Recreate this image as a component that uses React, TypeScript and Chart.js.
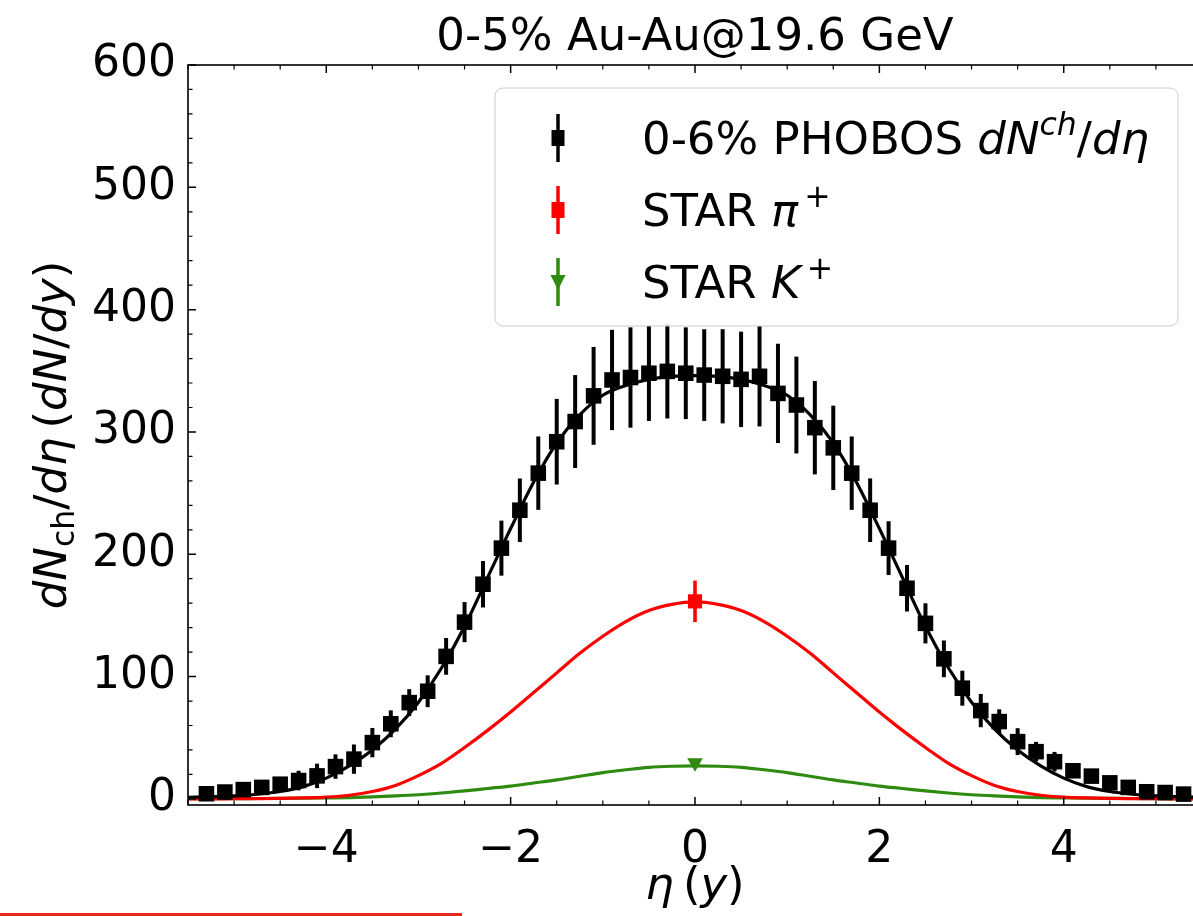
import { useEffect, useRef } from 'react';
import { Chart, registerables } from 'chart.js';

Chart.register(...registerables);

// ---------------- data ----------------
const etaPhobos = [-5.3, -5.1, -4.9, -4.7, -4.5, -4.3, -4.1, -3.9, -3.7, -3.5, -3.3, -3.1, -2.9, -2.7, -2.5, -2.3, -2.1, -1.9, -1.7, -1.5, -1.3, -1.1, -0.9, -0.7, -0.5, -0.3, -0.1, 0.1, 0.3, 0.5, 0.7, 0.9, 1.1, 1.3, 1.5, 1.7, 1.9, 2.1, 2.3, 2.5, 2.7, 2.9, 3.1, 3.3, 3.5, 3.7, 3.9, 4.1, 4.3, 4.5, 4.7, 4.9, 5.1, 5.3];
const dNdEtaPhobos = [4.2, 5.6, 7.6, 9.4, 12, 15, 18.8, 26.4, 32.5, 46, 61.4, 78.7, 88, 116.5, 144.5, 175.5, 205, 236, 266.3, 292, 308.5, 329.5, 342.5, 344.5, 348, 349.5, 348, 346.5, 345.5, 343, 345.5, 331.5, 322, 303.5, 287, 266.3, 236, 205, 172.2, 143.5, 114.5, 90.5, 72.2, 63.2, 46.8, 38.6, 30.4, 23, 18.6, 13.1, 9.4, 5.8, 5.2, 3.9];
const errPhobos = [1.5, 2, 2.5, 3, 5, 8, 10, 10, 12, 12, 11, 11, 13, 15, 16.4, 19, 22.5, 26, 30, 35, 38, 40, 41, 41, 39, 38.5, 37.5, 37.5, 38.5, 39, 41, 40.6, 39.6, 38.2, 34.5, 30, 26, 22, 19, 16.4, 15, 14.3, 13.6, 10, 11, 8, 8, 6, 5, 4, 3, 2, 1.5, 1.5];

const etaPion = [0];
const dNdyPion = [161.5];
const errPion = [17];

const etaKaon = [0];
const dNdyKaon = [29.5];
const errKaon = [2];

const etaCurve = [-5.5, -5.25, -5, -4.75, -4.5, -4.25, -4, -3.75, -3.5, -3.25, -3, -2.75, -2.5, -2.25, -2, -1.75, -1.5, -1.25, -1, -0.75, -0.5, -0.25, 0, 0.25, 0.5, 0.75, 1, 1.25, 1.5, 1.75, 2, 2.25, 2.5, 2.75, 3, 3.25, 3.5, 3.75, 4, 4.25, 4.5, 4.75, 5, 5.25, 5.5];
const chargedModel = [1.3, 1.8, 2.5, 3.8, 6, 10, 17, 27, 40, 57, 79, 107, 141, 181, 221, 259, 291, 314, 330, 338, 343, 345.5, 346, 345.5, 343, 338, 330, 314, 291, 259, 221, 181, 141, 107, 79, 57, 40, 27, 17, 10, 6, 3.8, 2.5, 1.8, 1.3];
const pionModel = [0, 0.05, 0.1, 0.2, 0.4, 0.8, 1.5, 3, 6, 11, 19, 29, 42, 56, 71, 87, 103, 119, 133, 145, 154, 159, 161, 159, 154, 145, 133, 119, 103, 87, 71, 56, 42, 29, 19, 11, 6, 3, 1.5, 0.8, 0.4, 0.2, 0.1, 0.05, 0];
const kaonModel = [0.1, 0.15, 0.2, 0.3, 0.4, 0.55, 0.8, 1.1, 1.6, 2.4, 3.4, 4.8, 6.5, 8.5, 10.5, 13, 15.5, 18.5, 21.5, 23.8, 25.8, 26.7, 27, 26.7, 25.8, 23.8, 21.5, 18.5, 15.5, 13, 10.5, 8.5, 6.5, 4.8, 3.4, 2.4, 1.6, 1.1, 0.8, 0.55, 0.4, 0.3, 0.2, 0.15, 0.1];

const xTickValues = [-4, -2, 0, 2, 4];
const yTickValues = [0, 100, 200, 300, 400, 500, 600];
const xRange = [-5.5, 5.5];
const yRange = [-5, 600];

const titleText = '0-5% Au-Au@19.6 GeV';

const BLACK = '#000000';
const RED = '#ff0000';
const GREEN = '#2e8b0f';
const FONT = '"DejaVu Sans"';

type Seg = { t: string; it?: boolean; sup?: boolean; sub?: boolean };

const legendRows: { segs: Seg[]; color: string; marker: 'rect' | 'tri' }[] = [
  { segs: [{ t: '0-6% PHOBOS ' }, { t: 'dN', it: true }, { t: 'ch', it: true, sup: true }, { t: '/' }, { t: 'dη', it: true }], color: BLACK, marker: 'rect' },
  { segs: [{ t: 'STAR ' }, { t: 'π', it: true }, { t: '\u2009+', sup: true }], color: RED, marker: 'rect' },
  { segs: [{ t: 'STAR ' }, { t: 'K', it: true }, { t: '\u2009+', sup: true }], color: GREEN, marker: 'tri' },
];

const xLabelSegs: Seg[] = [{ t: 'η', it: true }, { t: '\u2009(' }, { t: 'y', it: true }, { t: ')' }];
const yLabelSegs: Seg[] = [
  { t: 'dN', it: true }, { t: 'ch', sub: true }, { t: '/' }, { t: 'dη', it: true },
  { t: '\u2009(' }, { t: 'dN', it: true }, { t: '/' }, { t: 'dy', it: true }, { t: ')' },
];

// ---------------- helpers ----------------
function fontFor(s: Seg, size: number) {
  const sz = s.sup || s.sub ? size * 0.7 : size;
  return `${s.it ? 'italic ' : ''}${sz}px ${FONT}`;
}
function measureRich(ctx: CanvasRenderingContext2D, segs: Seg[], size: number) {
  let w = 0;
  for (const s of segs) {
    ctx.font = fontFor(s, size);
    w += ctx.measureText(s.t).width;
  }
  return w;
}
function drawRich(ctx: CanvasRenderingContext2D, segs: Seg[], x: number, y: number, size: number, align: 'left' | 'center') {
  let cx = align === 'center' ? x - measureRich(ctx, segs, size) / 2 : x;
  ctx.textAlign = 'left';
  ctx.textBaseline = 'alphabetic';
  for (const s of segs) {
    ctx.font = fontFor(s, size);
    const dy = s.sup ? -0.42 * size : s.sub ? 0.18 * size : 0;
    ctx.fillText(s.t, cx, y + dy);
    cx += ctx.measureText(s.t).width;
  }
}

const errorBarPlugin = {
  id: 'errorBars',
  beforeDatasetDraw(chart: any, args: any) {
    const ds = chart.data.datasets[args.index];
    if (!ds.errors) return;
    const { ctx, scales } = chart;
    const x = scales.x, y = scales.y;
    ctx.save();
    ctx.strokeStyle = ds.errorColor;
    ctx.lineWidth = ds.errorWidth;
    ds.data.forEach((p: any, i: number) => {
      const e = ds.errors[i];
      const px = x.getPixelForValue(p.x);
      ctx.beginPath();
      ctx.moveTo(px, y.getPixelForValue(p.y - e));
      ctx.lineTo(px, y.getPixelForValue(p.y + e));
      ctx.stroke();
    });
    ctx.restore();
  },
};

const decorPlugin = {
  id: 'decor',
  afterDatasetsDraw(chart: any) {
    const { ctx, chartArea: a, scales } = chart;
    const x = scales.x, y = scales.y;
    ctx.save();
    ctx.strokeStyle = '#000';
    const majLen = 8, minLen = 4.5;
    const xtick = (v: number, len: number, w: number) => {
      const px = x.getPixelForValue(v);
      ctx.lineWidth = w;
      ctx.beginPath();
      ctx.moveTo(px, a.bottom); ctx.lineTo(px, a.bottom - len);
      ctx.moveTo(px, a.top); ctx.lineTo(px, a.top + len);
      ctx.stroke();
    };
    const ytick = (v: number, len: number, w: number) => {
      const py = y.getPixelForValue(v);
      ctx.lineWidth = w;
      ctx.beginPath();
      ctx.moveTo(a.left, py); ctx.lineTo(a.left + len, py);
      ctx.moveTo(a.right, py); ctx.lineTo(a.right - len, py);
      ctx.stroke();
    };
    for (let v = -5.5; v <= 5.5001; v += 0.5) {
      if (xTickValues.some((t) => Math.abs(t - v) < 1e-6)) continue;
      xtick(v, minLen, 1.2);
    }
    xTickValues.forEach((v) => xtick(v, majLen, 1.5));
    for (let v = 20; v < 600; v += 20) {
      if (v % 100 === 0) continue;
      ytick(v, minLen, 1.2);
    }
    yTickValues.forEach((v) => ytick(v, majLen, 1.5));
    ctx.lineWidth = 1.6;
    ctx.strokeRect(a.left, a.top, a.right - a.left, a.bottom - a.top);
    ctx.restore();
  },
  afterDraw(chart: any) {
    const { ctx, chartArea: a } = chart;
    ctx.save();
    ctx.fillStyle = '#000';
    const cx = (a.left + a.right) / 2;
    // title
    ctx.font = `45px ${FONT}`;
    ctx.textAlign = 'center';
    ctx.textBaseline = 'alphabetic';
    ctx.fillText(titleText, cx, 50);
    // x label
    drawRich(ctx, xLabelSegs, cx, 899, 45, 'center');
    // y label
    ctx.save();
    ctx.translate(66, (a.top + a.bottom) / 2);
    ctx.rotate(-Math.PI / 2);
    drawRich(ctx, yLabelSegs, 0, 0, 45, 'center');
    ctx.restore();

    // legend
    const lx = 495, ly = a.top + 23, lw = a.right - 24 - 495, lh = 238;
    ctx.beginPath();
    ctx.roundRect(lx, ly, lw, lh, 8);
    ctx.fillStyle = 'rgba(255,255,255,0.8)';
    ctx.fill();
    ctx.strokeStyle = '#cccccc';
    ctx.lineWidth = 1;
    ctx.stroke();
    const rowY = [ly + 50, ly + 122, ly + 194];
    legendRows.forEach((row, i) => {
      const yc = rowY[i];
      const hx = 558;
      ctx.strokeStyle = row.color;
      ctx.fillStyle = row.color;
      ctx.lineWidth = 3.5;
      ctx.beginPath();
      ctx.moveTo(hx, yc - 24);
      ctx.lineTo(hx, yc + 24);
      ctx.stroke();
      if (row.marker === 'rect') {
        ctx.fillRect(hx - 6.5, yc - 8, 13, 16);
      } else {
        ctx.beginPath();
        ctx.moveTo(hx - 7.5, yc - 7);
        ctx.lineTo(hx + 7.5, yc - 7);
        ctx.lineTo(hx, yc + 8);
        ctx.closePath();
        ctx.fill();
      }
      ctx.fillStyle = '#000';
      drawRich(ctx, row.segs, 642, yc + 16, 45, 'left');
    });
    ctx.restore();
  },
};

function pts(xs: number[], ys: number[]) {
  return xs.map((v, i) => ({ x: v, y: ys[i] }));
}

export default function App() {
  const ref = useRef<HTMLCanvasElement>(null);
  useEffect(() => {
    const canvas = ref.current;
    if (!canvas) return;
    const chart = new Chart(canvas, {
      type: 'line',
      data: {
        datasets: [
          {
            label: '0-6% PHOBOS',
            data: pts(etaPhobos, dNdEtaPhobos),
            showLine: false,
            pointStyle: 'rect',
            pointRadius: 11,
            pointBackgroundColor: BLACK,
            pointBorderWidth: 0,
            borderColor: BLACK,
            backgroundColor: BLACK,
            errors: errPhobos,
            errorColor: BLACK,
            errorWidth: 4,
          } as any,
          {
            label: 'STAR pi+',
            data: pts(etaPion, dNdyPion),
            showLine: false,
            pointStyle: 'rect',
            pointRadius: 10,
            pointBackgroundColor: RED,
            pointBorderWidth: 0,
            borderColor: RED,
            backgroundColor: RED,
            errors: errPion,
            errorColor: RED,
            errorWidth: 3.6,
          } as any,
          {
            label: 'STAR K+',
            data: pts(etaKaon, dNdyKaon),
            showLine: false,
            pointStyle: 'triangle',
            pointRotation: 180,
            pointRadius: 9,
            pointBackgroundColor: GREEN,
            pointBorderWidth: 0,
            borderColor: GREEN,
            backgroundColor: GREEN,
            errors: errKaon,
            errorColor: GREEN,
            errorWidth: 3,
          } as any,
          {
            label: 'charged model',
            data: pts(etaCurve, chargedModel),
            borderColor: BLACK,
            borderWidth: 3.2,
            pointRadius: 0,
            fill: false,
            cubicInterpolationMode: 'monotone',
          },
          {
            label: 'pion model',
            data: pts(etaCurve, pionModel),
            borderColor: RED,
            borderWidth: 3.2,
            pointRadius: 0,
            fill: false,
            cubicInterpolationMode: 'monotone',
          },
          {
            label: 'kaon model',
            data: pts(etaCurve, kaonModel),
            borderColor: GREEN,
            borderWidth: 3.2,
            pointRadius: 0,
            fill: false,
            cubicInterpolationMode: 'monotone',
          },
        ],
      },
      options: {
        animation: false,
        responsive: false,
        devicePixelRatio: 1,
        events: [],
        layout: { padding: { left: 38, top: 65, right: 13, bottom: 51 } },
        plugins: { legend: { display: false }, tooltip: { enabled: false }, title: { display: false } },
        scales: {
          x: {
            type: 'linear',
            min: xRange[0],
            max: xRange[1],
            grid: { display: false },
            border: { display: false },
            afterBuildTicks: (s: any) => { s.ticks = xTickValues.map((v) => ({ value: v })); },
            afterFit: (s: any) => { s.height = 60; },
            ticks: {
              color: '#000',
              padding: 11,
              maxRotation: 0,
              autoSkip: false,
              font: { family: FONT, size: 44 },
              callback: (v: any) => (Number(v) < 0 ? '\u2212' + Math.abs(Number(v)) : String(v)),
            },
          },
          y: {
            type: 'linear',
            min: yRange[0],
            max: yRange[1],
            grid: { display: false },
            border: { display: false },
            afterBuildTicks: (s: any) => { s.ticks = yTickValues.map((v) => ({ value: v })); },
            afterFit: (s: any) => { s.width = 150; },
            ticks: {
              color: '#000',
              padding: 4,
              autoSkip: false,
              font: { family: FONT, size: 44 },
              callback: (v: any) => String(v),
            },
          },
        },
      } as any,
      plugins: [errorBarPlugin, decorPlugin],
    });
    return () => chart.destroy();
  }, []);

  return (
    <div style={{ position: 'fixed', left: 0, top: 0, width: 1193, height: 916, overflow: 'hidden', background: '#ffffff' }}>
      <canvas ref={ref} width={1215} height={916} style={{ display: 'block', width: 1215, height: 916 }} />
      <div style={{ position: 'absolute', left: 0, top: 913, width: 462, height: 3, background: '#e8281c' }} />
    </div>
  );
}
